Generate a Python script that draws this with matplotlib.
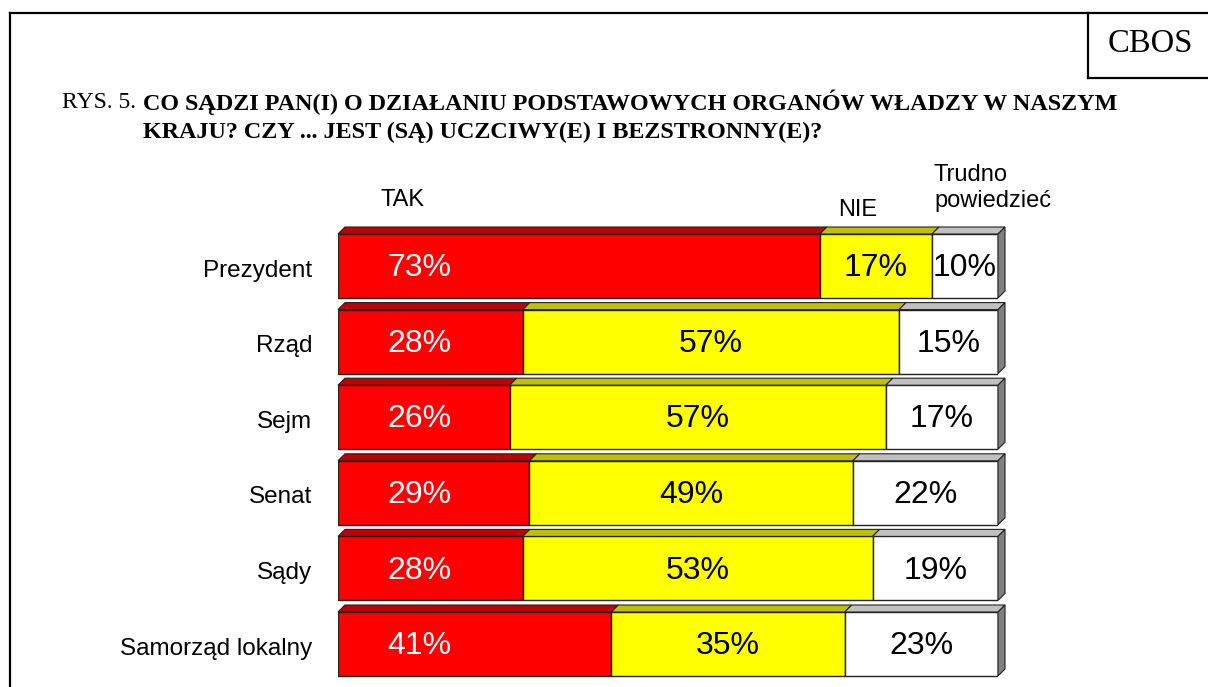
import numpy as np
import matplotlib.pyplot as plt
from matplotlib.patches import Polygon

categories = ["Prezydent", "Rząd", "Sejm", "Senat", "Sądy", "Samorząd lokalny"]
tak = [73, 28, 26, 29, 28, 41]
nie = [17, 57, 57, 49, 53, 35]
trudno = [10, 15, 17, 22, 19, 23]

front_cols = ["#FF0000", "#FFFF00", "#FFFFFF"]
top_cols = ["#C00000", "#C0C000", "#C0C0C0"]
side_col = "#808080"
text_cols = ["white", "black", "black"]

W, H = 1208, 687
fig = plt.figure(figsize=(W / 100, H / 100), dpi=100)

# axes: x 0..100 -> px 338..998, rows spaced 75.6 px
row_px = 75.6
n = len(categories)
top_px = 234 + 32 - row_px / 2
ax = fig.add_axes([338 / W, 1 - (top_px + n * row_px) / H, 660 / W, n * row_px / H])
ax.set_xlim(0, 100)
ax.set_ylim(-0.5, n - 0.5)
ax.axis("off")

bh = 64 / row_px
dx = 7 / 6.6
dy = 7 / row_px
sans = "Liberation Sans"

for i, cat in enumerate(categories):
    y = n - 1 - i
    vals = [tak[i], nie[i], trudno[i]]
    total = sum(vals)
    left = 0
    for j, v in enumerate(vals):
        w = v * 100 / total  # 100% stacked
        ax.barh(y, w, left=left, height=bh, color=front_cols[j], edgecolor="#222222", linewidth=1)
        yt = y + bh / 2
        ax.add_patch(Polygon([(left, yt), (left + w, yt), (left + w + dx, yt + dy), (left + dx, yt + dy)],
                             closed=True, facecolor=top_cols[j], edgecolor="#222222", linewidth=0.8, clip_on=False))
        if j == 0:
            tx = 12.3
        else:
            tx = left + w / 2
        ax.text(tx, y - 0.03, f"{v}%", ha="center", va="center", fontsize=23,
                color=text_cols[j], family=sans)
        left += w
    yb = y - bh / 2
    ax.add_patch(Polygon([(left, yb), (left, yb + bh), (left + dx, yb + bh + dy), (left + dx, yb + dy)],
                         closed=True, facecolor=side_col, edgecolor="#222222", linewidth=0.8, clip_on=False))
    ax.text(-3.9, y - 0.06, cat, ha="right", va="center", fontsize=17.5, family=sans)

# column headers
ax.text(9.8, n - 0.5 + 28 / row_px, "TAK", ha="center", va="center", fontsize=17, family=sans)
ax.text(78.8, n - 0.5 + 18 / row_px, "NIE", ha="center", va="center", fontsize=17, family=sans)
ax.text(90.3, n - 0.5 + 40 / row_px, "Trudno\npowiedzieć", ha="left", va="center",
        fontsize=17, family=sans, linespacing=1.25)

# title
serif = "Liberation Serif"
fig.text(62 / W, 1 - 102 / H, "RYS. 5.", ha="left", va="center", fontsize=17, family=serif)
fig.text(143 / W, 1 - 102 / H, "CO SĄDZI PAN(I) O DZIAŁANIU PODSTAWOWYCH ORGANÓW WŁADZY W NASZYM",
         ha="left", va="center", fontsize=17.4, family=serif, fontweight="bold")
fig.text(143 / W, 1 - 132 / H, "KRAJU? CZY ... JEST (SĄ) UCZCIWY(E) I BEZSTRONNY(E)?",
         ha="left", va="center", fontsize=17.4, family=serif, fontweight="bold")
fig.text(1150 / W, 1 - 44 / H, "CBOS", ha="center", va="center", fontsize=23.5, family=serif)

# frame lines
lw = 1.6
fig.add_artist(plt.Line2D([10 / W, 10 / W], [0, 1 - 13 / H], color="black", lw=lw))
fig.add_artist(plt.Line2D([10 / W, 1], [1 - 13 / H, 1 - 13 / H], color="black", lw=lw))
fig.add_artist(plt.Line2D([1088 / W, 1088 / W], [1 - 13 / H, 1 - 78 / H], color="black", lw=lw))
fig.add_artist(plt.Line2D([1088 / W, 1], [1 - 78 / H, 1 - 78 / H], color="black", lw=lw))

fig.savefig("out.png", dpi=100)
